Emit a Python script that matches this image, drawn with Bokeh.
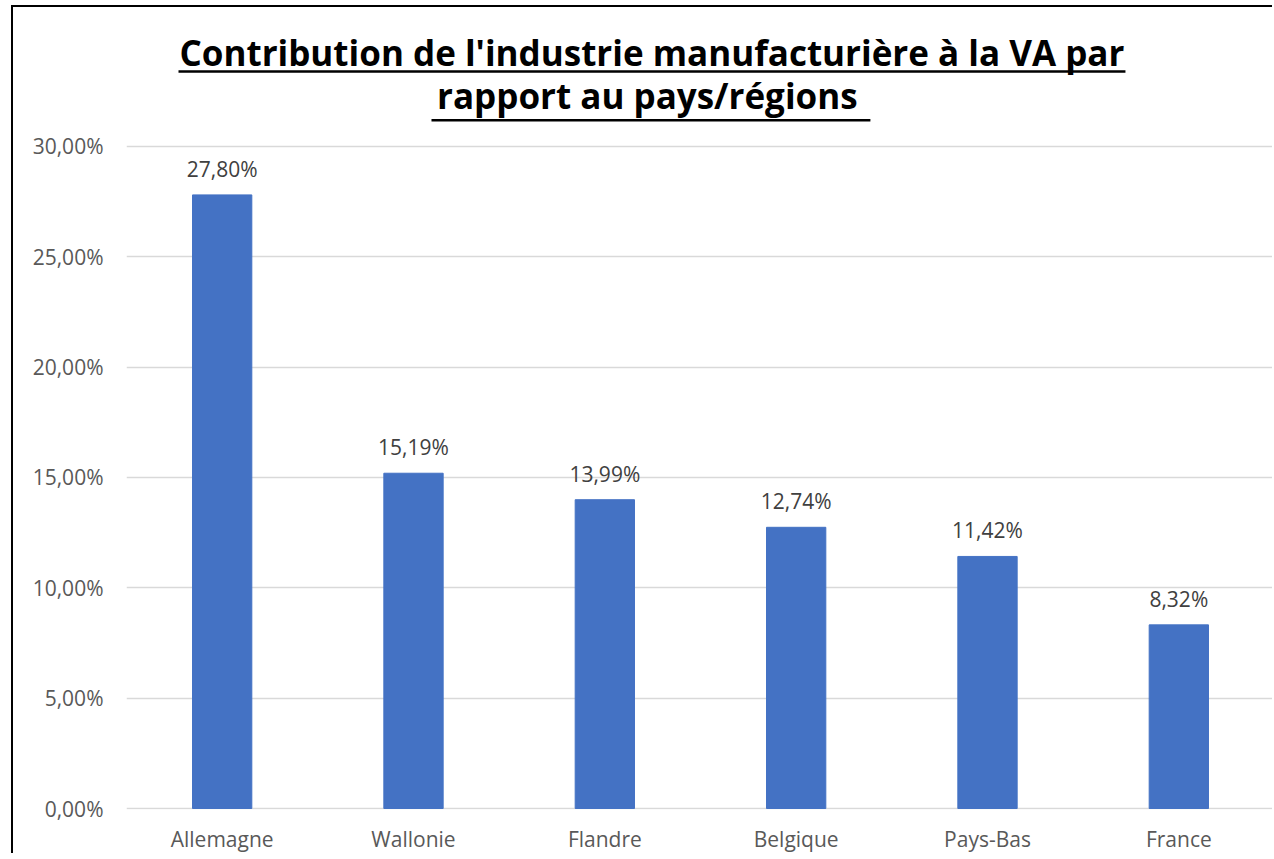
from bokeh.plotting import figure
from bokeh.models import FactorRange, Range1d, FixedTicker
from bokeh.core.properties import value
from bokeh.embed import file_html
from bokeh.resources import INLINE

# ---- data ----
categories = ["Allemagne", "Wallonie", "Flandre", "Belgique", "Pays-Bas", "France"]
values = [27.80, 15.19, 13.99, 12.74, 11.42, 8.32]
y_ticks = [0, 5, 10, 15, 20, 25, 30]
title_line1 = "Contribution de l'industrie manufacturière à la VA par"
title_line2 = "rapport  au pays/régions"


def pct(v):
    return f"{v:.2f}".replace(".", ",") + "%"


labels = [pct(v) for v in values]
tick_labels = {t: pct(t) for t in y_ticks}

W, H = 1261, 848
p = figure(width=W, height=H, output_backend="svg", toolbar_location=None,
           x_range=FactorRange(*categories), y_range=Range1d(-0.045, 36.29),
           min_border_left=113, min_border_right=0, min_border_top=0,
           min_border_bottom=45)
p.styles = {"border-left": "2px solid #000000", "border-top": "2px solid #000000",
            "margin-left": "11px", "margin-top": "5px"}
p.outline_line_color = None
p.background_fill_color = "white"
p.border_fill_color = "white"

p.vbar(x=categories, top=values, width=0.31, fill_color="#4472C4",
       line_color="#4472C4")

p.text(x=categories, y=values, text=labels, text_align="center",
       text_baseline="alphabetic", y_offset=-26,
       text_font=value("Open Sans"), text_font_size="21px", text_color="#404040")

# axes
p.yaxis.ticker = FixedTicker(ticks=y_ticks)
p.yaxis.major_label_overrides = tick_labels
p.ygrid.ticker = FixedTicker(ticks=y_ticks)
p.ygrid.grid_line_color = "#d9d9d9"
p.ygrid.grid_line_width = 1.5
p.xgrid.visible = False
for ax in (p.xaxis[0], p.yaxis[0]):
    ax.axis_line_color = None
    ax.major_tick_line_color = None
    ax.minor_tick_line_color = None
    ax.major_tick_out = 0
    ax.major_tick_in = 0
    ax.major_label_text_font = "Open Sans"
    ax.major_label_text_font_size = "21px"
    ax.major_label_text_color = "#595959"
p.yaxis.major_label_standoff = 23
p.xaxis.major_label_standoff = 15

# title (two underlined lines)
tx = 2.746
p.text(x=[tx, tx], y=[33.665, 31.72], text=[title_line1, title_line2],
       text_align="center", text_baseline="alphabetic", y_offset=-13,
       text_font=value("Open Sans"), text_font_style="bold",
       text_font_size="35px", text_color="#000000")
p.segment(x0=[0.2718, 1.594], y0=[33.39, 31.18], x1=[5.221, 3.888],
          y1=[33.39, 31.18], line_color="#000000", line_width=2.5)

open("out.html", "w").write(file_html(p, INLINE))
